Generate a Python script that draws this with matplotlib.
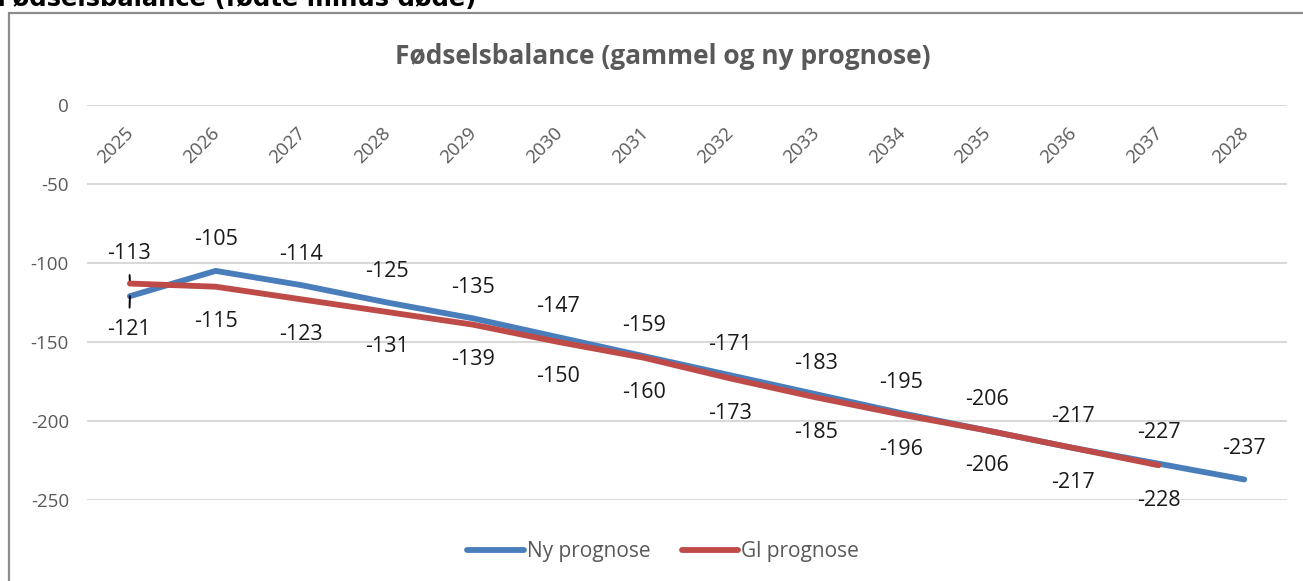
### Fødselsbalance chart: new vs old forecast, saved as out.png

import numpy as np
import matplotlib.pyplot as plt
from matplotlib.patches import Rectangle

years = ["2025", "2026", "2027", "2028", "2029", "2030", "2031",
         "2032", "2033", "2034", "2035", "2036", "2037", "2028"]
ny_prognose = [-121, -105, -114, -125, -135, -147, -159,
               -171, -183, -195, -206, -217, -227, -237]
gl_prognose = [-113, -115, -123, -131, -139, -150, -160,
               -173, -185, -196, -206, -217, -228]
y_ticks = [0, -50, -100, -150, -200, -250]

BLUE = "#4A7EBB"
RED = "#BE4B48"
GREY = "#595959"
FONT = "Open Sans"


def main():
    fig = plt.figure(figsize=(13.03, 5.81), dpi=100)
    ax = fig.add_axes([0.0668, 0.1394, 0.921, 0.6799])

    x_ny = np.arange(len(ny_prognose))
    x_gl = np.arange(len(gl_prognose))

    ax.plot(x_ny, ny_prognose, color=BLUE, lw=4.2, solid_capstyle="round",
            solid_joinstyle="round", label="Ny prognose", zorder=3)
    ax.plot(x_gl, gl_prognose, color=RED, lw=4.2, solid_capstyle="round",
            solid_joinstyle="round", label="Gl prognose", zorder=4)

    ax.set_xlim(-0.5, len(years) - 0.5)
    ax.set_ylim(-250, 0)
    ax.set_yticks(y_ticks)
    ax.set_yticklabels([str(v) for v in y_ticks], fontfamily=FONT,
                       fontsize=13.5, color=GREY)
    ax.tick_params(axis="y", length=0, pad=13)
    ax.set_xticks([])
    ax.grid(axis="y", color="#D9D9D9", lw=1.5)
    ax.set_axisbelow(True)
    for s in ax.spines.values():
        s.set_visible(False)

    # category labels sit just below the 0 line (axis crosses at top)
    trans = ax.get_xaxis_transform()
    for i, yr in enumerate(years):
        ax.annotate(yr, xy=(i, 1.0), xycoords=trans, xytext=(-14, -40),
                    textcoords="offset pixels", rotation=45, ha="center",
                    va="center", fontfamily=FONT, fontsize=13.5, color=GREY)

    # data labels
    lab_kw = dict(textcoords="offset pixels", ha="center", va="center",
                  fontfamily=FONT, fontsize=15.5, color="#1a1a1a")
    for i, v in enumerate(ny_prognose):
        if i == 0:
            ax.annotate(str(v), xy=(i, v), xytext=(-1, -33),
                        arrowprops=dict(arrowstyle="-", color="black", lw=1.4,
                                        shrinkA=6, shrinkB=0), **lab_kw)
        else:
            ax.annotate(str(v), xy=(i, v), xytext=(0, 31), **lab_kw)
    for i, v in enumerate(gl_prognose):
        if i == 0:
            ax.annotate(str(v), xy=(i, v), xytext=(-1, 30),
                        arrowprops=dict(arrowstyle="-", color="black", lw=1.4,
                                        shrinkA=6, shrinkB=0), **lab_kw)
        else:
            ax.annotate(str(v), xy=(i, v), xytext=(0, -35), **lab_kw)

    fig.text(0.509, 0.903, "Fødselsbalance (gammel og ny prognose)",
             ha="center", va="center", fontfamily=FONT, fontsize=19,
             fontweight="bold", color=GREY)

    # cut-off heading above the chart box
    fig.text(-0.002, 0.990, "Fødselsbalance (fødte minus døde)", ha="left",
             va="baseline", fontfamily="DejaVu Sans", fontsize=17.5,
             fontweight="bold", color="black")

    fig.patches.append(Rectangle((9 / 1303, -0.2), 1.2, 1.2 - 13 / 581,
                                 transform=fig.transFigure, fill=False,
                                 edgecolor="#8C8C8C", lw=1.6, clip_on=False))

    fig.legend(loc="center", bbox_to_anchor=(0.509, 0.05), ncol=2,
               frameon=False, handlelength=2.7, handletextpad=0.15,
               columnspacing=1.5, prop={"family": FONT, "size": 15},
               labelcolor=GREY)

    fig.savefig("out.png", dpi=100, facecolor="white")
    plt.close(fig)
    return "Saved out.png"


if __name__ == "__main__":
    print(main())
